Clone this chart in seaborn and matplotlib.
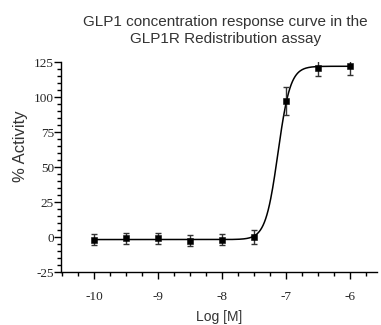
import numpy as np
import pandas as pd
import matplotlib
matplotlib.use("Agg")
import matplotlib.pyplot as plt
import seaborn as sns
from matplotlib.ticker import MultipleLocator

# data
log_conc = [-10, -9.5, -9, -8.5, -8, -7.5, -7, -6.5, -6]
activity = [-2, -1, -1, -2.5, -2, 0, 97, 121, 122]
sem = [4, 4, 4, 4, 4, 5, 10, 6, 6]

# fitted 4PL parameters (estimated from the curve)
bottom = -1.8
top = 122
log_ec50 = -7.13
hill = 4.5

df = pd.DataFrame({"logM": log_conc, "act": activity, "err": sem})

sns.set_theme(style="ticks")
plt.rcParams['font.family'] = ['Liberation Sans', 'DejaVu Sans']

fig = plt.figure(figsize=(3.81, 3.25), dpi=100)
ax = fig.add_axes([0.160, 0.163, 0.830, 0.646])

xs = np.linspace(-10, -6, 400)
fit = bottom + (top - bottom) / (1 + 10 ** ((log_ec50 - xs) * hill))
sns.lineplot(x=xs, y=fit, ax=ax, color="black", linewidth=1.1)

ax.errorbar(df["logM"], df["act"], yerr=df["err"], fmt="none",
            ecolor="#333333", elinewidth=1.0, capsize=2.5, capthick=1.0)
sns.scatterplot(data=df, x="logM", y="act", ax=ax, marker="s", s=22,
                color="black", edgecolor="black", zorder=5)

ax.set_xlim(-10.52, -5.58)
ax.set_ylim(-25, 125)
ax.xaxis.set_major_locator(MultipleLocator(1))
ax.xaxis.set_minor_locator(MultipleLocator(0.25))
ax.yaxis.set_major_locator(MultipleLocator(25))
ax.yaxis.set_minor_locator(MultipleLocator(5))
ax.tick_params(which="major", length=5, width=1, color="black", direction="out")
ax.tick_params(which="minor", length=3, width=1, color="black", direction="out")
ax.tick_params(axis="x", pad=9)
ax.tick_params(axis="y", pad=0)
ax.set_xticks([-10, -9, -8, -7, -6])
ax.set_xticklabels(["-10", "-9", "-8", "-7", "-6"], fontfamily="Liberation Serif", fontsize=9.5)
ax.set_yticks([-25, 0, 25, 50, 75, 100, 125])
ax.set_yticklabels(["-25", "0", "25", "50", "75", "100", "125"], fontfamily="Liberation Serif", fontsize=9.5)

sns.despine(ax=ax)
for sp in ["left", "bottom"]:
    ax.spines[sp].set_color("black")
    ax.spines[sp].set_linewidth(1)

ax.set_xlabel("Log [M]", fontsize=10, labelpad=5, color="#333333")
ax.set_ylabel("% Activity", fontsize=12, color="#333333")
ax.yaxis.set_label_coords(-0.105, 0.6)
ax.set_title("GLP1 concentration response curve in the\nGLP1R Redistribution assay",
             fontsize=11, pad=14, x=0.52, linespacing=1.2, color="#333333")

fig.savefig("out.png", dpi=100)
